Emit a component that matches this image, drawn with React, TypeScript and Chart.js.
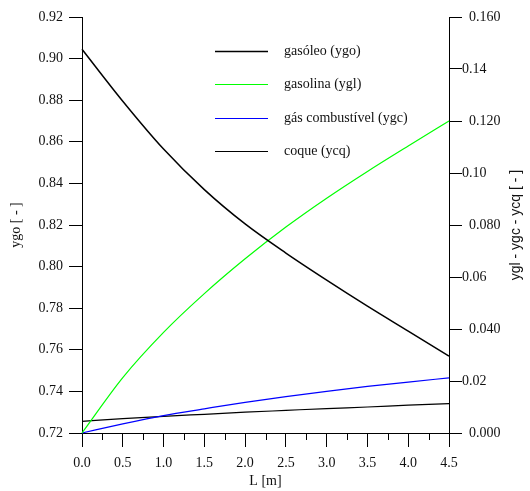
import React, { useEffect, useRef } from 'react';
import { Chart, registerables } from 'chart.js';

Chart.register(...registerables);

// ---- data ----
const lengthM = [0, 0.5, 1.0, 1.5, 2.0, 2.5, 3.0, 3.5, 4.0, 4.5];
const ygo = [0.9045, 0.8795, 0.8565, 0.837, 0.8205, 0.8065, 0.7935, 0.781, 0.769, 0.757];
const ygl = [0, 0.0213, 0.0387, 0.0536, 0.067, 0.0792, 0.0903, 0.1006, 0.1104, 0.12];
const ygc = [0, 0.0035, 0.0067, 0.0093, 0.0118, 0.014, 0.016, 0.0179, 0.0196, 0.0212];
const ycq = [0.0045, 0.0055, 0.0064, 0.0072, 0.008, 0.0087, 0.0094, 0.01, 0.0107, 0.0113];
const seriesNames = ['gasóleo (ygo)', 'gasolina (ygl)', 'gás combustível (ygc)', 'coque (ycq)'];
const seriesColors = ['#000000', '#00ff00', '#0000ff', '#000000'];
const xMinorTicks = [0.25, 0.75, 1.25, 1.75, 2.25, 2.75, 3.25, 3.75, 4.25];
const xTitle = 'L [m]';
const yLeftTitle = 'ygo [ - ]';
const yRightTitle = 'ygl - ygc - ycq [ - ]';

const SERIF = '"Liberation Serif", "Times New Roman", serif';
const SANS = '"Liberation Sans", Arial, sans-serif';

const toPts = (ys: number[]) => ys.map((y, i) => ({ x: lengthM[i], y }));

const overlayPlugin = {
  id: 'overlayPlugin',
  afterDraw(chart: any) {
    const { ctx, chartArea, scales } = chart;
    const xs = scales.x;
    ctx.save();
    // minor x ticks
    ctx.strokeStyle = '#000';
    ctx.lineWidth = 1;
    for (const v of xMinorTicks) {
      const px = Math.round(xs.getPixelForValue(v)) + 0.5;
      ctx.beginPath();
      ctx.moveTo(px, chartArea.bottom);
      ctx.lineTo(px, chartArea.bottom + 7);
      ctx.stroke();
    }
    // legend
    const lx0 = chartArea.left + 133;
    const lx1 = lx0 + 53;
    const tx = lx0 + 69;
    const ly0 = chartArea.top + 34;
    const dy = 33.3;
    ctx.font = '14px ' + SERIF;
    ctx.textAlign = 'left';
    ctx.textBaseline = 'middle';
    seriesNames.forEach((name, i) => {
      const y = Math.round(ly0 + i * dy) + 0.5;
      ctx.strokeStyle = seriesColors[i];
      ctx.lineWidth = i === 0 ? 1.3 : 1.2;
      ctx.beginPath();
      ctx.moveTo(lx0, y);
      ctx.lineTo(lx1, y);
      ctx.stroke();
      ctx.fillStyle = '#111';
      ctx.fillText(name, tx, y);
    });
    // right axis title (reads bottom to top)
    ctx.translate(chartArea.right + 67, (chartArea.top + chartArea.bottom) / 2);
    ctx.rotate(-Math.PI / 2);
    ctx.font = '14px ' + SANS;
    ctx.textAlign = 'center';
    ctx.textBaseline = 'middle';
    ctx.fillStyle = '#111';
    ctx.fillText(yRightTitle, 0, 0);
    ctx.restore();
  },
};

export default function App() {
  const ref = useRef<HTMLCanvasElement | null>(null);
  useEffect(() => {
    document.body.style.margin = '0';
    const canvas = ref.current;
    if (!canvas) return;
    const chart = new Chart(canvas, {
      type: 'line',
      data: {
        datasets: [
          { label: seriesNames[0], data: toPts(ygo), yAxisID: 'y', borderColor: seriesColors[0], borderWidth: 1.5 },
          { label: seriesNames[1], data: toPts(ygl), yAxisID: 'y1', borderColor: seriesColors[1], borderWidth: 1.2 },
          { label: seriesNames[2], data: toPts(ygc), yAxisID: 'y1', borderColor: seriesColors[2], borderWidth: 1.2 },
          { label: seriesNames[3], data: toPts(ycq), yAxisID: 'y1', borderColor: seriesColors[3], borderWidth: 1.2 },
        ].map((d) => ({ ...d, pointRadius: 0, fill: false, cubicInterpolationMode: 'monotone' as const, clip: false as any })),
      },
      options: {
        responsive: false,
        animation: false,
        layout: { padding: { top: 17, left: 0, right: 0, bottom: 0 } },
        plugins: { legend: { display: false }, tooltip: { enabled: false } },
        scales: {
          x: {
            type: 'linear',
            min: 0,
            max: 4.5,
            ticks: {
              stepSize: 0.5,
              color: '#111',
              font: { family: SERIF, size: 14 },
              padding: 8,
              maxRotation: 0,
              callback: (v: any) => Number(v).toFixed(1),
            },
            grid: { drawOnChartArea: false, tickLength: 14, color: '#000', tickColor: '#000' },
            border: { color: '#000', width: 1 },
            title: { display: true, text: xTitle, color: '#111', font: { family: SERIF, size: 14 }, padding: { top: 0, bottom: 1 } },
            afterFit: (s: any) => { s.height = 58; },
          },
          y: {
            position: 'left',
            min: 0.72,
            max: 0.92,
            ticks: {
              stepSize: 0.02,
              color: '#111',
              font: { family: SERIF, size: 14 },
              padding: 6,
              callback: (v: any) => Number(v).toFixed(2),
            },
            grid: { drawOnChartArea: false, tickLength: 13, color: '#000', tickColor: '#000' },
            border: { color: '#000', width: 1 },
            title: { display: true, text: yLeftTitle, color: '#111', font: { family: SERIF, size: 14 }, padding: { top: 8, bottom: 0 } },
            afterFit: (s: any) => { s.width = 82; },
          },
          y1: {
            position: 'right',
            min: 0,
            max: 0.16,
            ticks: {
              stepSize: 0.02,
              color: '#111',
              font: { family: SERIF, size: 14 },
              padding: 0,
              callback: (v: any, i: number) => (i % 2 === 0 ? '  ' + Number(v).toFixed(3) : Number(v).toFixed(2)),
            },
            grid: { drawOnChartArea: false, tickLength: 13, color: '#000', tickColor: '#000' },
            border: { color: '#000', width: 1 },
            afterFit: (s: any) => { s.width = 81; },
          },
        },
      } as any,
      plugins: [overlayPlugin],
    });
    return () => chart.destroy();
  }, []);
  return (
    <div style={{ position: 'absolute', left: 0, top: 0, width: 530, height: 491, background: '#fff' }}>
      <canvas ref={ref} width={530} height={491} />
    </div>
  );
}
